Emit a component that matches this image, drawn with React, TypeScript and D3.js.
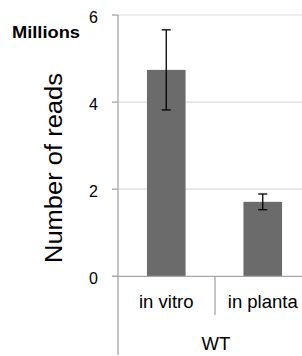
import React from "react";
import * as d3 from "d3";

const categories = ["in vitro", "in planta"];
const values = [4.74, 1.71];
const errors = [0.92, 0.18];
const yTicks = [0, 2, 4, 6];
const groupLabel = "WT";
const yTitle = "Number of reads";
const unitLabel = "Millions";

export default function App() {
  const W = 302, H = 356;
  const x0 = 118;
  const y = d3.scaleLinear().domain([0, 6]).range([276.3, 15]);
  const x = d3.scaleBand().domain(categories).range([x0, x0 + 193]).paddingInner(0.6).paddingOuter(0.3);
  const font = "'Liberation Sans', Arial, sans-serif";
  const axisColor = "#a6a6a6";
  return (
    <svg width={W} height={H} style={{ position: "absolute", left: 0, top: 0 }} fontFamily={font}>
      <rect width={W} height={H} fill="#fff" />
      {yTicks.filter((t) => t > 0).map((t) => (
        <line key={"g" + t} x1={x0} x2={W} y1={y(t)} y2={y(t)} stroke="#dcdcdc" strokeWidth={1.2} />
      ))}
      {categories.map((c, i) => (
        <rect key={c} x={x(c)!} y={y(values[i])} width={x.bandwidth()} height={y(0) - y(values[i])} fill="#6b6b6b" />
      ))}
      {categories.map((c, i) => {
        const cx = x(c)! + x.bandwidth() / 2;
        const hi = y(values[i] + errors[i]);
        const lo = y(values[i] - errors[i]);
        return (
          <g key={"e" + c} stroke="#000" strokeWidth={1.3}>
            <line x1={cx} x2={cx} y1={hi} y2={lo} />
            <line x1={cx - 4.5} x2={cx + 4.5} y1={hi} y2={hi} />
            <line x1={cx - 4.5} x2={cx + 4.5} y1={lo} y2={lo} />
          </g>
        );
      })}
      <line x1={x0 - 6} x2={W} y1={y(0)} y2={y(0)} stroke={axisColor} strokeWidth={1.3} />
      <line x1={x0} x2={x0} y1={y(6)} y2={355} stroke={axisColor} strokeWidth={1.3} />
      {yTicks.map((t) => (
        <g key={"t" + t}>
          <line x1={x0 - 6} x2={x0} y1={y(t)} y2={y(t)} stroke={axisColor} strokeWidth={1.3} />
          <text x={98} y={y(t) + 8} textAnchor="end" fontSize={16} fill="#000">{t}</text>
        </g>
      ))}
      <line x1={x0 + 97} x2={x0 + 97} y1={y(0)} y2={315} stroke={axisColor} strokeWidth={1.3} />
      {categories.map((c) => (
        <text key={"l" + c} x={x(c)! + x.bandwidth() / 2} y={308} textAnchor="middle" fontSize={18.5} fill="#000">{c}</text>
      ))}
      <text x={216} y={350} textAnchor="middle" fontSize={18.5} fill="#000">{groupLabel}</text>
      <text x={12} y={38} fontSize={17} fontWeight="bold" textLength={68} lengthAdjust="spacingAndGlyphs" fill="#000">{unitLabel}</text>
      <text transform={`translate(62,168) rotate(-90)`} textAnchor="middle" fontSize={23} textLength={190} lengthAdjust="spacingAndGlyphs" fill="#000">{yTitle}</text>
    </svg>
  );
}
